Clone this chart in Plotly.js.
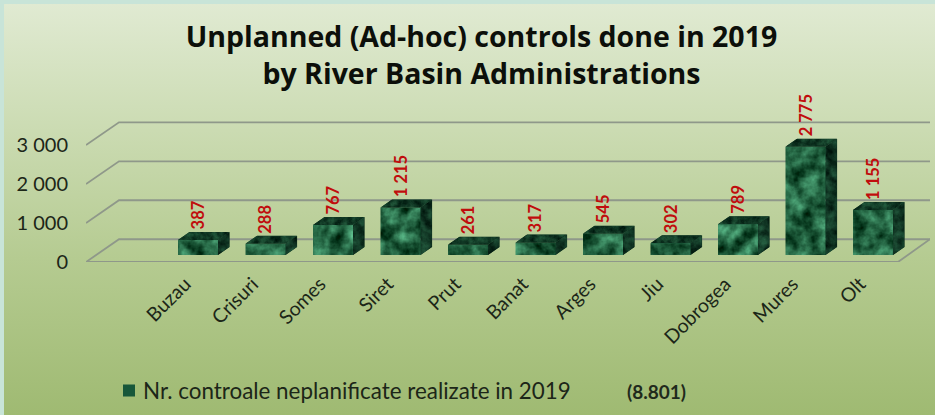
<!DOCTYPE html>
<html><head><meta charset="utf-8">
<script src="https://cdn.plot.ly/plotly-3.0.1.min.js"></script>
<style>
html,body{margin:0;padding:0;width:935px;height:415px;overflow:hidden;background:#c8e4d8}
#bg{position:absolute;left:4px;top:4px;width:931px;height:411px;background:linear-gradient(180deg,#e0ead2 0%,#cfdeb8 25%,#b5cb91 62%,#9fba72 100%)}
#chart{position:absolute;left:0;top:0;width:935px;height:415px}
.legendpoints{transform:translateX(6px)}
</style></head><body>
<div id="bg"></div><div id="chart"></div>
<script>
var categories=["Buzau","Crisuri","Somes","Siret","Prut","Banat","Arges","Jiu","Dobrogea","Mures","Olt"];
var values=[387,288,767,1215,261,317,545,302,789,2775,1155];
var valueLabels=["387","288","767","1 215","261","317","545","302","789","2 775","1 155"];
var yTicks=[0,1000,2000,3000];
var yTickText=["0","1 000","2 000","3 000"];
var seriesName="Nr. controale neplanificate realizate in 2019";
var totalNote="(8.801)";
var titleText="Unplanned (Ad-hoc) controls done in 2019<br>by River Basin Administrations";

// chart geometry (pixels of plot area <-> axis units)
var W=935,H=415,mL=86,mR=5,mT=118,mB=153.3;
var pxPerCat=67.5, pxPerVal=0.0389;
var xMin=-(198-mL)/pxPerCat, xMax=xMin+(W-mL-mR)/pxPerCat;
var yMax=(H-mT-mB)/pxPerVal;
var barW=40/pxPerCat;
var base=7/pxPerVal;              // bars stand on the floor, set back from its front edge
var dX=11.6/pxPerCat, dY=8/pxPerVal;     // bar depth
var wallX=33/pxPerCat, wallY=22.7/pxPerVal; // wall/floor depth
var floorRight=xMin+(898-mL)/pxPerCat;
var labelGap=10/pxPerVal;

function marble(w,h,seed,freq,lo,hi,points){
  // lo/hi: dark and light rgb (0-255); noise mapped between them
  var m=function(i){var a=(hi[i]-lo[i])/255/0.3,b=lo[i]/255-0.35*a;return [a,0,0,0,b];};
  var mat=[m(0),m(1),m(2),[0,0,0,0,1]].map(function(r){return r.join(" ");}).join(" ");
  var clip=points?'<clipPath id="c"><polygon points="'+points+'"/></clipPath>':'';
  var svg='<svg xmlns="http://www.w3.org/2000/svg" width="'+w+'" height="'+h+'" viewBox="0 0 '+w+' '+h+'">'+
    clip+'<filter id="f" x="0" y="0" width="100%" height="100%" color-interpolation-filters="sRGB">'+
    '<feTurbulence type="fractalNoise" baseFrequency="'+freq+'" numOctaves="4" seed="'+seed+'"/>'+
    '<feColorMatrix type="matrix" values="'+mat+'"/></filter>'+
    '<rect width="'+w+'" height="'+h+'" filter="url(#f)"'+(points?' clip-path="url(#c)"':'')+'/></svg>';
  return 'data:image/svg+xml;charset=utf-8,'+encodeURIComponent(svg);
}

var gx=[],gy=[];
yTicks.forEach(function(t){
  gx.push(xMin,xMin+wallX,xMax,null); gy.push(t,t+wallY,t+wallY,null);
});
gx.push(xMin,floorRight,xMax,null); gy.push(0,0,wallY,null);

var sx=[],sy=[],tx=[],ty=[];
var images=[],annotations=[];
values.forEach(function(v,i){
  var r=i+barW/2,l=i-barW/2,bot=base,top=base+v;
  sx.push(r,r+dX,r+dX,r,r,null); sy.push(bot,bot+dY,top+dY,top,bot,null);
  tx.push(l,r,r+dX,l+dX,l,null); ty.push(top,top,top+dY,top+dY,top,null);
  var fh=Math.max(1,Math.round(v*pxPerVal));
  images.push({source:marble(40,fh,i*7+3,0.06,[14,66,38],[58,135,95]),xref:"x",yref:"y",x:l,y:top,sizex:barW,sizey:v,sizing:"stretch",xanchor:"left",yanchor:"top",layer:"above"});
  var sdx=11.6,sdy=8;
  images.push({source:marble(12,fh+8,i*7+4,0.1,[8,36,23],[24,68,46],"0,"+sdy+" "+sdx+",0 "+sdx+","+fh+" 0,"+(fh+sdy)),xref:"x",yref:"y",x:r,y:top+dY,sizex:dX,sizey:v+dY,sizing:"stretch",xanchor:"left",yanchor:"top",layer:"above"});
  images.push({source:marble(52,8,i*7+5,0.14,[8,40,25],[24,70,46],"0,8 40,8 51.6,0 11.6,0"),xref:"x",yref:"y",x:l,y:top+dY,sizex:barW+dX,sizey:dY,sizing:"stretch",xanchor:"left",yanchor:"top",layer:"above"});
  annotations.push({x:i,y:top+labelGap,xref:"x",yref:"y",text:valueLabels[i],textangle:-90,showarrow:false,xanchor:"center",yanchor:"bottom",font:{family:"Lato, sans-serif",size:16.5,color:"#c00d0d",weight:700},borderpad:0,borderwidth:0});
});
annotations.push({xref:"paper",yref:"paper",x:(625-mL)/(W-mL-mR),y:-(391-(H-mB))/(H-mT-mB),text:totalNote,showarrow:false,xanchor:"left",yanchor:"middle",font:{family:"Lato, sans-serif",size:19,color:"#1f2a1c",weight:700}});

var traces=[
 {type:"scatter",mode:"lines",x:gx,y:gy,line:{color:"#8f988a",width:1.8},hoverinfo:"skip",showlegend:false,cliponaxis:false,connectgaps:false},
 {type:"bar",name:seriesName,x:values.map(function(_,i){return i;}),y:values,base:values.map(function(){return base;}),width:barW,marker:{color:"#17573a",line:{width:0}},showlegend:true},
 {type:"scatter",mode:"lines",x:sx,y:sy,fill:"toself",fillcolor:"#0c2e1d",line:{width:0},hoverinfo:"skip",showlegend:false},
 {type:"scatter",mode:"lines",x:tx,y:ty,fill:"toself",fillcolor:"#0f3a25",line:{width:0},hoverinfo:"skip",showlegend:false}
];

var layout={
 width:W,height:H,autosize:false,paper_bgcolor:"rgba(0,0,0,0)",plot_bgcolor:"rgba(0,0,0,0)",
 margin:{l:mL,r:mR,t:mT,b:mB,pad:0},
 title:{text:titleText,x:481.5/W,xanchor:"center",xref:"container",y:1-46.5/H,yanchor:"middle",font:{family:"'Open Sans', sans-serif",size:28.5,color:"#0c0f0a",weight:700}},
 xaxis:{range:[xMin,xMax],tickmode:"array",tickvals:categories.map(function(_,i){return i-0.19;}),ticktext:categories,tickangle:-45,showgrid:false,zeroline:false,showline:false,ticks:"",ticklabelstandoff:6,automargin:false,tickfont:{family:"Lato, sans-serif",size:19.5,color:"#1c2618"}},
 yaxis:{range:[0,yMax],tickmode:"array",tickvals:yTicks,ticktext:yTickText,showgrid:false,zeroline:false,showline:false,ticks:"",ticklabelstandoff:17,automargin:false,tickfont:{family:"Lato, sans-serif",size:20,color:"#1c2618"}},
 showlegend:true,
 legend:{xref:"paper",yref:"container",x:(103-mL)/(W-mL-mR),y:1-391/H,xanchor:"left",yanchor:"middle",bgcolor:"rgba(0,0,0,0)",borderwidth:0,font:{family:"Lato, sans-serif",size:22.4,color:"#1c2618"}},
 images:images,annotations:annotations,bargap:0
};
Plotly.newPlot("chart",traces,layout,{displayModeBar:false,staticPlot:true});
</script></body></html>
